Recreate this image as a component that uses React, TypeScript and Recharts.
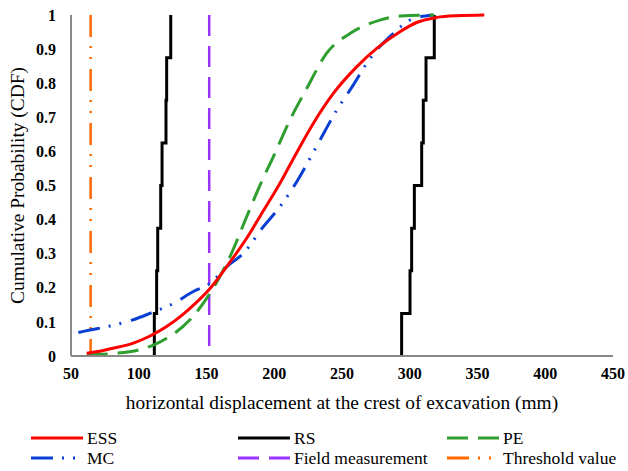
import { LineChart, Line, XAxis, YAxis } from 'recharts';

// values (x in mm, y = cumulative probability)
const essX = [61.6, 70, 80, 96, 108, 120, 132, 142, 152.6, 167.3, 182, 190, 204, 214, 228.8, 243.6, 260.8, 275.6, 292.8, 305, 320, 335, 355];
const essY = [0.008, 0.013, 0.022, 0.038, 0.058, 0.085, 0.12, 0.155, 0.198, 0.275, 0.36, 0.413, 0.505, 0.578, 0.682, 0.77, 0.848, 0.902, 0.951, 0.978, 0.993, 0.998, 1];

const peX = [61.6, 80, 100, 112, 120.6, 137.8, 152.6, 167.3, 179.7, 190.5, 199.3, 211.6, 224, 238.7, 255.9, 278, 293, 318];
const peY = [0.003, 0.007, 0.018, 0.034, 0.052, 0.106, 0.184, 0.291, 0.409, 0.51, 0.584, 0.692, 0.785, 0.888, 0.946, 0.985, 0.997, 1];

const mcX = [55.4, 64, 78.8, 95, 108.3, 125.5, 140.3, 152.6, 164.9, 177.2, 191.9, 204.2, 216.6, 232.5, 246.1, 258.4, 268.2, 275.6, 287.9, 300, 317];
const mcY = [0.069, 0.076, 0.088, 0.105, 0.125, 0.154, 0.189, 0.213, 0.262, 0.301, 0.379, 0.438, 0.511, 0.624, 0.721, 0.795, 0.858, 0.897, 0.946, 0.985, 1];

// RS samples (empirical CDF, 8 runs each)
const rsLow = [111.5, 113.2, 114.0, 116.2, 117.2, 120.1, 120.6, 123.6];
const rsHigh = [294, 300.2, 301.4, 303.4, 308.8, 310, 312, 318.1];

const fieldValue = 152;
const thresholdValue = 64.5;

const xTicks = [50, 100, 150, 200, 250, 300, 350, 400, 450];
const yTicks = [0, 0.1, 0.2, 0.3, 0.4, 0.5, 0.6, 0.7, 0.8, 0.9, 1];

const pts = (xs: number[], ys: number[]) => xs.map((x, i) => ({ x, y: ys[i] }));
const steps = (s: number[]) => {
  const out: { x: number; y: number }[] = [];
  s.forEach((x, i) => {
    out.push({ x, y: i / s.length });
    out.push({ x, y: (i + 1) / s.length });
  });
  return out;
};
const vline = (x: number) => [{ x, y: 1 }, { x, y: 0 }];

const serif = '"Liberation Serif", "Times New Roman", serif';
const dashDotDot = '22 9 2 9 2 10';

const legendItems = [
  { name: 'ESS', color: '#ff0000', dash: undefined, left: 31, top: 428 },
  { name: 'RS', color: '#000000', dash: undefined, left: 238, top: 428 },
  { name: 'PE', color: '#2e9e2e', dash: '21 10', left: 447, top: 428 },
  { name: 'MC', color: '#0a3fd4', dash: dashDotDot, left: 31, top: 448 },
  { name: 'Field measurement', color: '#9933ff', dash: '21 10', left: 238, top: 448 },
  { name: 'Threshold value', color: '#ff6a00', dash: dashDotDot, left: 447, top: 448 },
];

export default function App() {
  return (
    <div style={{ position: 'absolute', left: 0, top: 0, width: 628, height: 471, background: '#fff' }}>
      <LineChart width={628} height={471} margin={{ top: 15, right: 15, left: 0, bottom: 59 }}>
        <XAxis
          type="number"
          dataKey="x"
          domain={[50, 450]}
          ticks={xTicks}
          allowDataOverflow
          axisLine={{ stroke: '#898989', strokeWidth: 2 }}
          tickLine={false}
          tickMargin={6}
          height={56}
          tick={{ fontFamily: serif, fontSize: 16, fontWeight: 'bold', fill: '#000' }}
          label={{
            value: 'horizontal displacement at the crest of excavation (mm)',
            position: 'insideBottom',
            offset: 3,
            style: { fontFamily: serif, fontSize: 19.4, fill: '#000' },
          }}
        />
        <YAxis
          type="number"
          dataKey="y"
          domain={[0, 1]}
          ticks={yTicks}
          width={71}
          axisLine={{ stroke: '#898989', strokeWidth: 2 }}
          tickLine={false}
          tickMargin={9}
          tick={{ fontFamily: serif, fontSize: 16, fontWeight: 'bold', fill: '#000' }}
          label={{
            value: 'Cumulative Probability (CDF)',
            angle: -90,
            position: 'insideLeft',
            offset: 17,
            style: { fontFamily: serif, fontSize: 19.4, fill: '#000', textAnchor: 'middle' },
          }}
        />
        <Line data={vline(thresholdValue)} dataKey="y" stroke="#ff6a00" strokeWidth={2.5} strokeDasharray={dashDotDot} dot={false} isAnimationActive={false} />
        <Line data={vline(fieldValue)} dataKey="y" stroke="#9933ff" strokeWidth={2.5} strokeDasharray="21 10" dot={false} isAnimationActive={false} />
        <Line data={steps(rsLow)} dataKey="y" stroke="#000" strokeWidth={3} dot={false} isAnimationActive={false} />
        <Line data={steps(rsHigh)} dataKey="y" stroke="#000" strokeWidth={3} dot={false} isAnimationActive={false} />
        <Line data={pts(mcX, mcY)} type="monotone" dataKey="y" stroke="#0a3fd4" strokeWidth={3} strokeDasharray={dashDotDot} dot={false} isAnimationActive={false} />
        <Line data={pts(peX, peY)} type="monotone" dataKey="y" stroke="#2e9e2e" strokeWidth={3} strokeDasharray="21 10" dot={false} isAnimationActive={false} />
        <Line data={pts(essX, essY)} type="monotone" dataKey="y" stroke="#ff0000" strokeWidth={3} dot={false} isAnimationActive={false} />
      </LineChart>
      {legendItems.map((it) => (
        <div
          key={it.name}
          style={{ position: 'absolute', left: it.left, top: it.top, height: 20, display: 'flex', alignItems: 'center', fontFamily: serif, fontSize: 17.5, color: '#000', whiteSpace: 'nowrap' }}
        >
          <svg width={52} height={6} style={{ marginRight: 4 }}>
            <line x1={0} y1={3} x2={52} y2={3} stroke={it.color} strokeWidth={3} strokeDasharray={it.dash} />
          </svg>
          <span>{it.name}</span>
        </div>
      ))}
    </div>
  );
}
